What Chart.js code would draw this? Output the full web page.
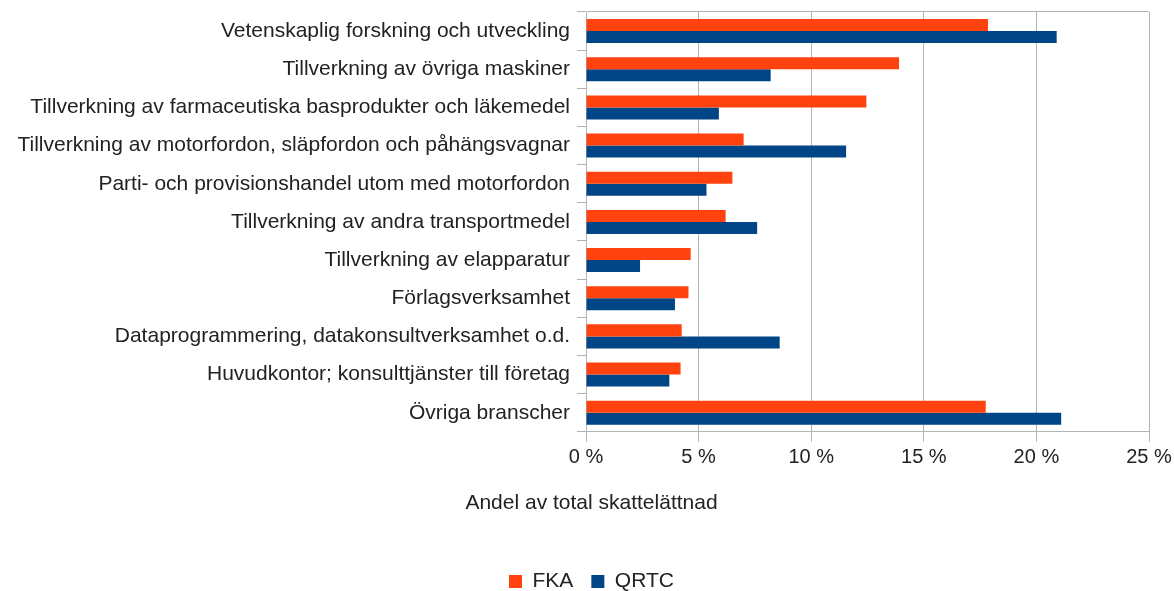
<!DOCTYPE html>
<html>
<head>
<meta charset="utf-8">
<script src="https://cdn.jsdelivr.net/npm/chart.js@4/dist/chart.umd.min.js"></script>
<style>
  html, body { margin: 0; padding: 0; background: #fff; }
  #wrap { width: 1174px; height: 591px; position: relative; }
</style>
</head>
<body>
<div id="wrap"><canvas id="chart"></canvas></div>
<script>
// branscher, uppifrån och ned
var categories = [
    'Vetenskaplig forskning och utveckling',
    'Tillverkning av övriga maskiner',
    'Tillverkning av farmaceutiska basprodukter och läkemedel',
    'Tillverkning av motorfordon, släpfordon och påhängsvagnar',
    'Parti- och provisionshandel utom med motorfordon',
    'Tillverkning av andra transportmedel',
    'Tillverkning av elapparatur',
    'Förlagsverksamhet',
    'Dataprogrammering, datakonsultverksamhet o.d.',
    'Huvudkontor; konsulttjänster till företag',
    'Övriga branscher'
];

// andel av total skattelättnad, procent
var fkaValues = [17.85, 13.9, 12.45, 7.0, 6.5, 6.2, 4.65, 4.55, 4.25, 4.2, 17.75];
var qrtcValues = [20.9, 8.2, 5.9, 11.55, 5.35, 7.6, 2.4, 3.95, 8.6, 3.7, 21.1];

var xTicks = [0, 5, 10, 15, 20, 25];
var axisTitle = 'Andel av total skattelättnad';

var gridColor = '#b3b3b3';
var textColor = '#222222';
var fontFamily = '"Liberation Sans", Arial, sans-serif';

// title and legend sit centred on the whole page, not on the plot
var shiftBottom = {
    id: 'shiftBottom',
    afterLayout: function (chart) {
        [chart.titleBlock, chart.legend].forEach(function (box) {
            if (box) {
                box.left += 17;
                box.right += 17;
            }
        });
    }
};

var ctx = document.getElementById('chart').getContext('2d');

var chart = new Chart(ctx, {
    type: 'bar',
    data: {
        labels: categories,
        datasets: [{
            label: 'FKA',
            data: fkaValues,
            backgroundColor: '#ff420e',
            borderWidth: 0,
            categoryPercentage: 0.63,
            barPercentage: 1.0
        }, {
            label: 'QRTC',
            data: qrtcValues,
            backgroundColor: '#004586',
            borderWidth: 0,
            categoryPercentage: 0.63,
            barPercentage: 1.0
        }]
    },
    options: {
        indexAxis: 'y',
        responsive: true,
        maintainAspectRatio: false,
        animation: false,
        layout: {
            padding: { top: 12, right: 25, left: 0, bottom: -11 }
        },
        scales: {
            x: {
                min: 0,
                max: 25,
                afterBuildTicks: function (scale) {
                    scale.ticks = xTicks.map(v => ({ value: v }));
                },
                afterFit: function (scale) {
                    scale.height = 52;
                    scale.paddingLeft = 0;
                    scale.paddingRight = 0;
                },
                ticks: {
                    callback: function (value) { return value + ' %'; },
                    color: textColor,
                    font: { family: fontFamily, size: 20 },
                    padding: 4,
                    maxRotation: 0
                },
                grid: {
                    color: gridColor,
                    tickColor: gridColor,
                    tickLength: 10,
                    lineWidth: 1
                },
                border: { color: gridColor }
            },
            y: {
                afterFit: function (scale) {
                    scale.width = 586;
                    scale.paddingTop = 0;
                    scale.paddingBottom = 0;
                },
                ticks: {
                    color: textColor,
                    font: { family: fontFamily, size: 21 },
                    padding: 7,
                    autoSkip: false
                },
                grid: {
                    offset: true,
                    drawOnChartArea: true,
                    color: function (c) {
                        return (c.index === 0 || c.index === undefined) ? gridColor : 'rgba(0,0,0,0)';
                    },
                    tickColor: gridColor,
                    tickLength: 9
                },
                border: { color: gridColor }
            }
        },
        plugins: {
            title: {
                display: true,
                text: axisTitle,
                position: 'bottom',
                weight: 500,
                color: textColor,
                font: { family: fontFamily, size: 21, weight: 'normal' },
                padding: { top: 7, bottom: 37 }
            },
            legend: {
                position: 'bottom',
                labels: {
                    color: textColor,
                    font: { family: fontFamily, size: 21 },
                    boxWidth: 13,
                    boxHeight: 13,
                    padding: 18
                }
            },
            tooltip: { enabled: false }
        }
    },
    plugins: [shiftBottom]
});
</script>
</body>
</html>
